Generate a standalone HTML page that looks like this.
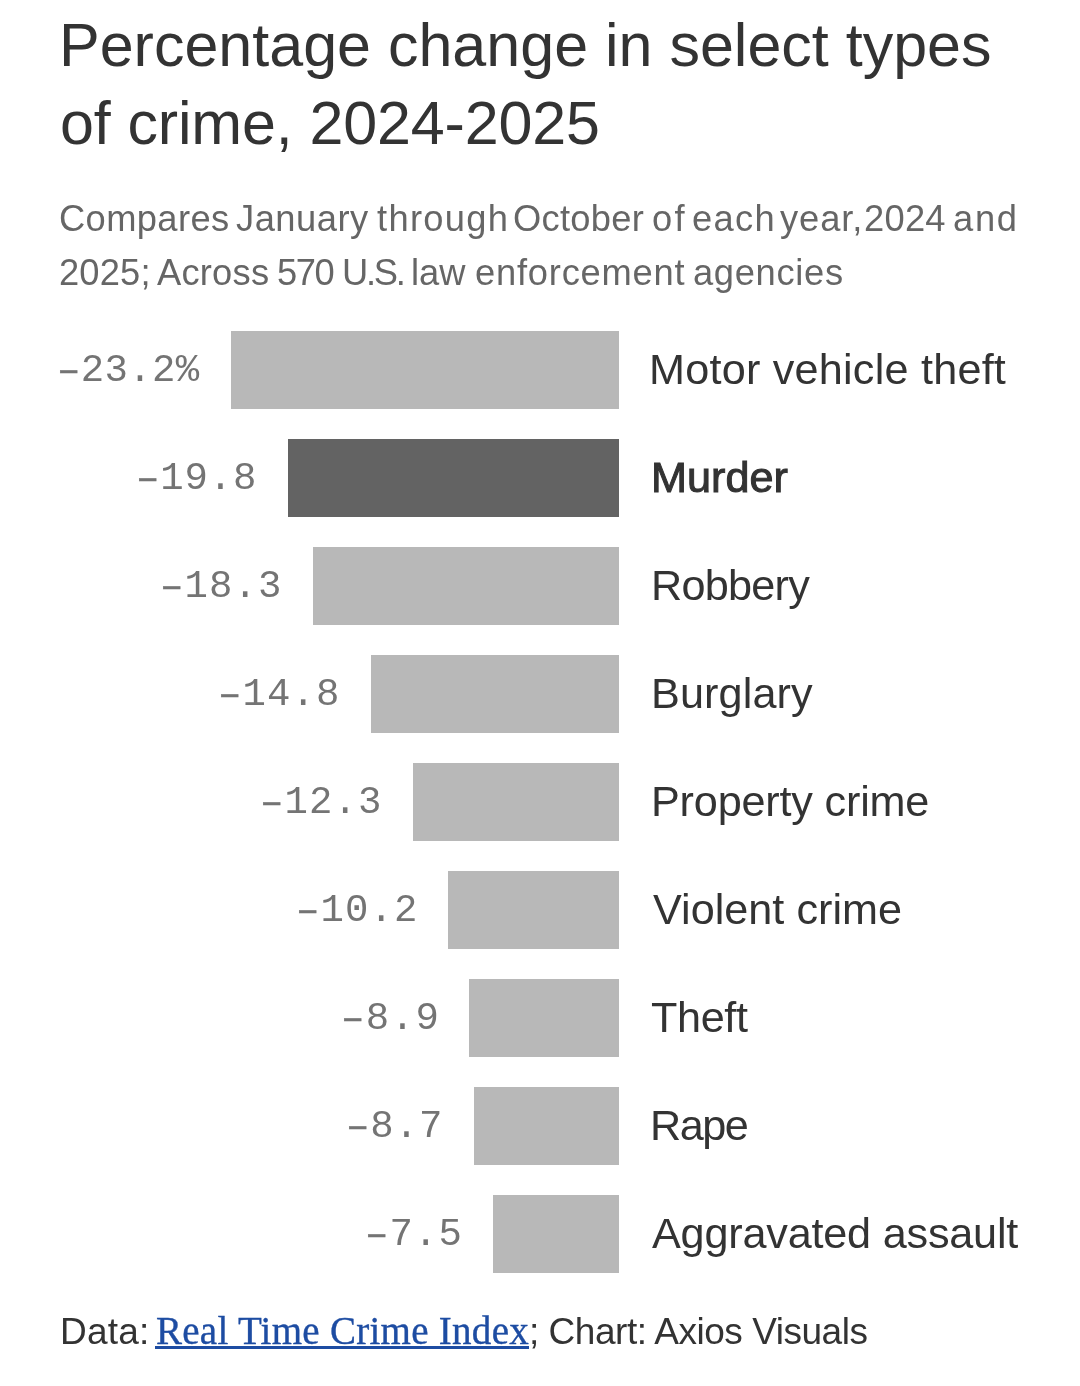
<!DOCTYPE html>
<html><head><meta charset="utf-8">
<style>
html,body{margin:0;padding:0;background:#fff;width:1080px;height:1386px;overflow:hidden;}
body{position:relative;font-family:"Liberation Sans",sans-serif;}
.tx{position:absolute;white-space:nowrap;will-change:transform;}
.mn{-webkit-text-stroke:0.5px currentColor;position:relative;top:1px;}
.bar{position:absolute;height:78px;}
</style></head><body>
<div class="bar" style="top:331px;left:231px;width:388px;background:#b8b8b8"></div>
<div class="bar" style="top:439px;left:288px;width:331px;background:#636363"></div>
<div class="bar" style="top:547px;left:313px;width:306px;background:#b8b8b8"></div>
<div class="bar" style="top:655px;left:371px;width:248px;background:#b8b8b8"></div>
<div class="bar" style="top:763px;left:413px;width:206px;background:#b8b8b8"></div>
<div class="bar" style="top:871px;left:448px;width:171px;background:#b8b8b8"></div>
<div class="bar" style="top:979px;left:469px;width:150px;background:#b8b8b8"></div>
<div class="bar" style="top:1087px;left:474px;width:145px;background:#b8b8b8"></div>
<div class="bar" style="top:1195px;left:493px;width:126px;background:#b8b8b8"></div>
<div class="tx" style="left:59.1px;top:200.7px;font-size:36.3px;line-height:36.3px;letter-spacing:0.386px;color:#666666">Compares</div>
<div class="tx" style="left:235.7px;top:200.7px;font-size:36.3px;line-height:36.3px;letter-spacing:0.517px;color:#666666">January</div>
<div class="tx" style="left:376.7px;top:200.7px;font-size:36.3px;line-height:36.3px;letter-spacing:1.317px;color:#666666">through</div>
<div class="tx" style="left:512.6px;top:200.7px;font-size:36.3px;line-height:36.3px;letter-spacing:0.3px;color:#666666">October</div>
<div class="tx" style="left:651.7px;top:200.7px;font-size:36.3px;line-height:36.3px;letter-spacing:2.3px;color:#666666">of</div>
<div class="tx" style="left:692px;top:200.7px;font-size:36.3px;line-height:36.3px;letter-spacing:1.333px;color:#666666">each</div>
<div class="tx" style="left:780px;top:200.7px;font-size:36.3px;line-height:36.3px;letter-spacing:0.9px;color:#666666">year,</div>
<div class="tx" style="left:863.6px;top:200.7px;font-size:36.3px;line-height:36.3px;letter-spacing:0.267px;color:#666666">2024</div>
<div class="tx" style="left:952.6px;top:200.7px;font-size:36.3px;line-height:36.3px;letter-spacing:1.7px;color:#666666">and</div>
<div class="tx" style="left:59.1px;top:254.7px;font-size:36.3px;line-height:36.3px;letter-spacing:0.175px;color:#666666">2025;</div>
<div class="tx" style="left:156.7px;top:254.7px;font-size:36.3px;line-height:36.3px;letter-spacing:0.22px;color:#666666">Across</div>
<div class="tx" style="left:276.8px;top:254.7px;font-size:36.3px;line-height:36.3px;letter-spacing:-1.45px;color:#666666">570</div>
<div class="tx" style="left:341.9px;top:254.7px;font-size:36.3px;line-height:36.3px;letter-spacing:-2.233px;color:#666666">U.S.</div>
<div class="tx" style="left:411.3px;top:254.7px;font-size:36.3px;line-height:36.3px;letter-spacing:-0.05px;color:#666666">law</div>
<div class="tx" style="left:474.6px;top:254.7px;font-size:36.3px;line-height:36.3px;letter-spacing:0.78px;color:#666666">enforcement</div>
<div class="tx" style="left:692.5px;top:254.7px;font-size:36.3px;line-height:36.3px;letter-spacing:0.686px;color:#666666">agencies</div>
<div class="tx" style="left:59.4px;top:15.0px;font-family:'Liberation Sans';font-size:61px;line-height:61px;letter-spacing:0.0px;color:#333333;">Percentage change in select types</div>
<div class="tx" style="left:60.1px;top:92.7px;font-family:'Liberation Sans';font-size:61px;line-height:61px;letter-spacing:-0.144px;color:#333333;">of crime, 2024-2025</div>
<div class="tx" style="left:649px;top:347.9px;font-family:'Liberation Sans';font-size:43.2px;line-height:43.2px;letter-spacing:0.222px;color:#333333;">Motor vehicle theft</div>
<div class="tx" style="left:651.1px;top:455.9px;font-family:'Liberation Sans';font-size:43.2px;line-height:43.2px;letter-spacing:0px;color:#333333;-webkit-text-stroke:1px #333333;">Murder</div>
<div class="tx" style="left:650.9px;top:563.9px;font-family:'Liberation Sans';font-size:43.2px;line-height:43.2px;letter-spacing:-0.75px;color:#333333;">Robbery</div>
<div class="tx" style="left:650.9px;top:671.9px;font-family:'Liberation Sans';font-size:43.2px;line-height:43.2px;letter-spacing:0.129px;color:#333333;">Burglary</div>
<div class="tx" style="left:650.9px;top:779.9px;font-family:'Liberation Sans';font-size:43.2px;line-height:43.2px;letter-spacing:-0.185px;color:#333333;">Property crime</div>
<div class="tx" style="left:652.5px;top:887.9px;font-family:'Liberation Sans';font-size:43.2px;line-height:43.2px;letter-spacing:0.017px;color:#333333;">Violent crime</div>
<div class="tx" style="left:650.9px;top:995.9px;font-family:'Liberation Sans';font-size:43.2px;line-height:43.2px;letter-spacing:-0.375px;color:#333333;">Theft</div>
<div class="tx" style="left:650px;top:1103.9px;font-family:'Liberation Sans';font-size:43.2px;line-height:43.2px;letter-spacing:-1.533px;color:#333333;">Rape</div>
<div class="tx" style="left:651.9px;top:1211.9px;font-family:'Liberation Sans';font-size:43.2px;line-height:43.2px;letter-spacing:-0.2px;color:#333333;">Aggravated assault</div>
<div class="tx" style="left:57.0px;top:351.8px;font-family:'Liberation Mono';font-size:39px;line-height:39px;letter-spacing:0.32px;color:#747474;"><span class="mn">–</span>23.2%</div>
<div class="tx" style="left:136.1px;top:459.8px;font-family:'Liberation Mono';font-size:39px;line-height:39px;letter-spacing:0.825px;color:#747474;"><span class="mn">–</span>19.8</div>
<div class="tx" style="left:160.3px;top:567.8px;font-family:'Liberation Mono';font-size:39px;line-height:39px;letter-spacing:1.075px;color:#747474;"><span class="mn">–</span>18.3</div>
<div class="tx" style="left:218px;top:675.8px;font-family:'Liberation Mono';font-size:39px;line-height:39px;letter-spacing:1.075px;color:#747474;"><span class="mn">–</span>14.8</div>
<div class="tx" style="left:260.3px;top:783.8px;font-family:'Liberation Mono';font-size:39px;line-height:39px;letter-spacing:1.075px;color:#747474;"><span class="mn">–</span>12.3</div>
<div class="tx" style="left:295.9px;top:891.8px;font-family:'Liberation Mono';font-size:39px;line-height:39px;letter-spacing:1.125px;color:#747474;"><span class="mn">–</span>10.2</div>
<div class="tx" style="left:341.4px;top:999.8px;font-family:'Liberation Mono';font-size:39px;line-height:39px;letter-spacing:1.433px;color:#747474;"><span class="mn">–</span>8.9</div>
<div class="tx" style="left:346.2px;top:1107.8px;font-family:'Liberation Mono';font-size:39px;line-height:39px;letter-spacing:0.933px;color:#747474;"><span class="mn">–</span>8.7</div>
<div class="tx" style="left:365.3px;top:1215.8px;font-family:'Liberation Mono';font-size:39px;line-height:39px;letter-spacing:1.133px;color:#747474;"><span class="mn">–</span>7.5</div>
<div class="tx" style="left:59.6px;top:1313px;font-family:'Liberation Sans';font-size:37px;line-height:37px;letter-spacing:0.2px;color:#333333;">Data:</div>
<div class="tx" style="left:155.5px;top:1311px;font-family:'Liberation Serif';font-size:39px;line-height:39px;letter-spacing:0.275px;color:#1d4ca2;-webkit-text-stroke:0.35px #1d4ca2;">Real Time Crime Index</div>
<div class="tx" style="left:529px;top:1313px;font-family:'Liberation Sans';font-size:37px;line-height:37px;letter-spacing:-0.476px;color:#333333;">; Chart: Axios Visuals</div>
<div style="position:absolute;left:154.6px;top:1346px;width:374px;height:3px;background:#1d4ca2"></div>
</body></html>
